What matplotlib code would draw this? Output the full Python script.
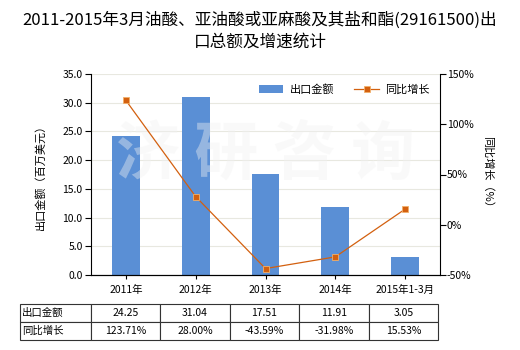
import matplotlib
matplotlib.use("Agg")
import matplotlib.pyplot as plt
import numpy as np

plt.rcParams['font.family'] = ['Noto Sans CJK SC', 'DejaVu Sans']

categories = ["2011年", "2012年", "2013年", "2014年", "2015年1-3月"]
export_values = [24.25, 31.04, 17.51, 11.91, 3.05]
growth_pct = [123.71, 28.00, -43.59, -31.98, 15.53]
left_ticks = [0, 5, 10, 15, 20, 25, 30, 35]
right_ticks = [-50, 0, 50, 100, 150]

bar_color = "#5a8fd5"
line_color = "#d3600f"

fig = plt.figure(figsize=(5.2, 3.5), dpi=100)
ax = fig.add_axes([91/520, 75/350, 349/520, 201/350])
ax2 = ax.twinx()

x = np.arange(len(categories))
ax.bar(x, export_values, width=0.4, color=bar_color, zorder=2, label="出口金额")
ax.set_xlim(-0.5, len(categories) - 0.5)
ax.set_ylim(0, 35)
ax.set_yticks(left_ticks)
ax.set_yticklabels([f"{v:.1f}" for v in left_ticks], fontsize=7.5)
ax.set_xticks(x)
ax.set_xticklabels(categories, fontsize=7.5)
ax.tick_params(axis='x', length=3, width=0.8, pad=4)
ax.tick_params(axis='y', length=4, width=0.8, pad=2)
ax.grid(axis='y', color="#e8e8e0", linewidth=0.8, zorder=0)
ax.set_axisbelow(True)
ax.spines['top'].set_visible(False)
ax.spines['right'].set_visible(False)
ax.set_ylabel("出口金额（百万美元）", fontsize=8, labelpad=12)

ax2.plot(x, growth_pct, color=line_color, linewidth=0.9, marker='s', markersize=5,
         markerfacecolor=line_color, markeredgecolor="#f2b06a", markeredgewidth=0.6,
         zorder=3, label="同比增长")
ax2.set_ylim(-50, 150)
ax2.set_yticks(right_ticks)
ax2.set_yticklabels([f"{v}%" for v in right_ticks], fontsize=7.5)
ax2.tick_params(axis='y', length=4, width=0.8, pad=1)
ax2.spines['top'].set_visible(False)
ax2.spines['left'].set_visible(False)
ax2.set_ylabel("同比增长（%）", fontsize=8, rotation=270, labelpad=14)

# watermark
ax.text(0.5, 0.60, "济 研 咨 询", transform=ax.transAxes, fontsize=46, fontweight='bold',
        color="#f2f2f2", alpha=0.4, ha='center', va='center', zorder=2.5)

# legend
h1, l1 = ax.get_legend_handles_labels()
h2, l2 = ax2.get_legend_handles_labels()
leg = ax2.legend(h1 + h2, l1 + l2, loc='upper right', bbox_to_anchor=(1.0, 1.0),
                 ncol=2, frameon=False, fontsize=8, handlelength=2.2,
                 columnspacing=1.8, handletextpad=0.6)

# title
fig.text(0.5, 1 - 20/350, "2011-2015年3月油酸、亚油酸或亚麻酸及其盐和酯(29161500)出",
         ha='center', va='center', fontsize=12)
fig.text(0.5, 1 - 42/350, "口总额及增速统计", ha='center', va='center', fontsize=12)

# data table
cell_text = [["出口金额"] + [f"{v:.2f}" for v in export_values],
             ["同比增长"] + [f"{v:.2f}%" for v in growth_pct]]
x0 = (20 - 91) / 349
x1 = (438 - 91) / 349
y_top = (275 - 304) / 201
y_bot = (275 - 340) / 201
widths = [71, 69, 70, 69, 70, 69]
tbl = ax.table(cellText=cell_text, colWidths=[w / sum(widths) for w in widths],
               bbox=[x0, y_bot, x1 - x0, y_top - y_bot], cellLoc='center')
tbl.auto_set_font_size(False)
tbl.set_fontsize(7.5)
for (r, c), cell in tbl.get_celld().items():
    cell.set_linewidth(0.8)
    cell.set_edgecolor("#333333")
    if c == 0:
        cell.get_text().set_ha('left')
        cell.PAD = 0.03

fig.savefig("out.png", dpi=100)
